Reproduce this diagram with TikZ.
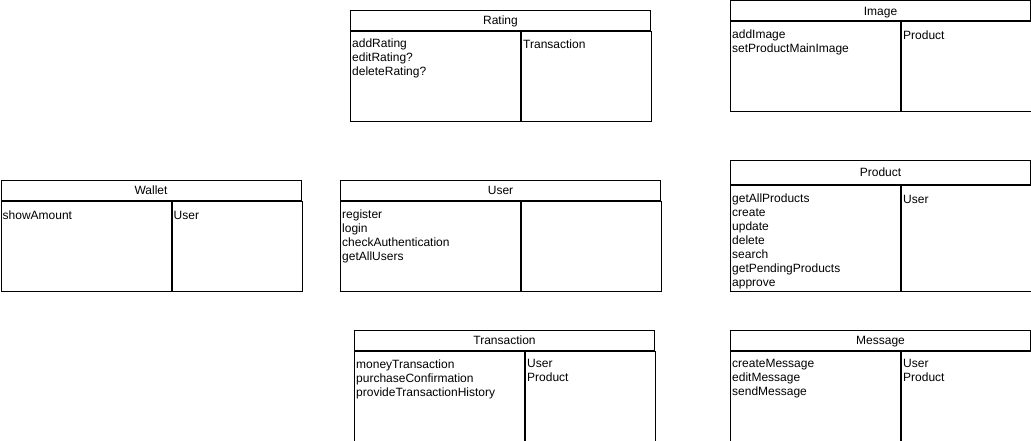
\documentclass[tikz,border=0pt]{standalone}
\usepackage{fontspec}
\setmainfont{Liberation Sans}
\usetikzlibrary{positioning}
\tikzset{
  cardtitle/.style={draw, line width=1pt, anchor=north west, inner sep=0pt,
    minimum height=20pt, text height=9.6pt, text depth=1.4pt,
    font=\fontsize{12}{14}\selectfont},
  cardcell/.style={draw, line width=1pt, anchor=north west, inner sep=0pt},
  cardtext/.style={anchor=north west, align=left, inner sep=0pt,
    font=\fontsize{12}{14}\selectfont, execute at begin node=\strut},
}
\begin{document}
\begin{tikzpicture}[x=1pt,y=-1pt]
  \useasboundingbox (0,0) rectangle (1031,441);
  % Rating
  \node[cardtitle, minimum width=300pt] (ratingT) at (350,10) {Rating};
  \node[cardcell, minimum width=170pt, minimum height=90pt] (ratingL) at (ratingT.south west) {};
  \node[cardcell, minimum width=130pt, minimum height=90pt] (ratingR) at (ratingL.north east) {};
  \node[cardtext] (ratingResp) at ([xshift=2pt,yshift=-8pt]ratingL.north west) {addRating\\editRating?\\deleteRating?};
  \node[cardtext] (ratingColl) at ([xshift=2pt,yshift=-8pt]ratingR.north west) {Transaction};
  % Image
  \node[cardtitle, minimum width=300pt] (imageT) at (730,0.5) {Image};
  \node[cardcell, minimum width=170pt, minimum height=90pt] (imageL) at (imageT.south west) {};
  \node[cardcell, minimum width=130pt, minimum height=90pt] (imageR) at (imageL.north east) {};
  \node[cardtext] (imageResp) at ([xshift=2pt,yshift=-8.5pt]imageL.north west) {addImage\\setProductMainImage};
  \node[cardtext] (imageColl) at ([xshift=2pt,yshift=-8.5pt]imageR.north west) {Product};
  % Wallet
  \node[cardtitle, minimum width=300pt] (walletT) at (0.5,180) {Wallet};
  \node[cardcell, minimum width=170pt, minimum height=90pt] (walletL) at (walletT.south west) {};
  \node[cardcell, minimum width=130pt, minimum height=90pt] (walletR) at (walletL.north east) {};
  \node[cardtext] (walletResp) at ([xshift=2pt,yshift=-8.5pt]walletL.north west) {showAmount};
  \node[cardtext] (walletColl) at ([xshift=2pt,yshift=-8.5pt]walletR.north west) {User};
  % User
  \node[cardtitle, minimum width=320pt] (userT) at (340,180) {User};
  \node[cardcell, minimum width=180pt, minimum height=90pt] (userL) at (userT.south west) {};
  \node[cardcell, minimum width=140pt, minimum height=90pt] (userR) at (userL.north east) {};
  \node[cardtext] (userResp) at ([xshift=2pt,yshift=-8.5pt]userL.north west) {register\\login\\checkAuthentication\\getAllUsers};
  % Product
  \node[cardtitle, minimum width=300pt, minimum height=24pt] (productT) at (730,160) {Product};
  \node[cardcell, minimum width=170pt, minimum height=106pt] (productL) at (productT.south west) {};
  \node[cardcell, minimum width=130pt, minimum height=106pt] (productR) at (productL.north east) {};
  \node[cardtext] (productResp) at ([xshift=2pt,yshift=-8.5pt]productL.north west) {getAllProducts\\create\\update\\delete\\search\\getPendingProducts\\approve};
  \node[cardtext] (productColl) at ([xshift=2pt,yshift=-8.5pt]productR.north west) {User};
  % Transaction
  \node[cardtitle, minimum width=300pt] (transT) at (354,330) {Transaction};
  \node[cardcell, minimum width=170pt, minimum height=90pt] (transL) at (transT.south west) {};
  \node[cardcell, minimum width=130pt, minimum height=90pt] (transR) at (transL.north east) {};
  \node[cardtext] (transResp) at ([xshift=2pt,yshift=-8.5pt]transL.north west) {moneyTransaction\\purchaseConfirmation\\provideTransactionHistory};
  \node[cardtext] (transColl) at ([xshift=2pt,yshift=-8.5pt]transR.north west) {User\\Product};
  % Message
  \node[cardtitle, minimum width=300pt] (messageT) at (730,330) {Message};
  \node[cardcell, minimum width=170pt, minimum height=90pt] (messageL) at (messageT.south west) {};
  \node[cardcell, minimum width=130pt, minimum height=90pt] (messageR) at (messageL.north east) {};
  \node[cardtext] (messageResp) at ([xshift=2pt,yshift=-8.5pt]messageL.north west) {createMessage\\editMessage\\sendMessage};
  \node[cardtext] (messageColl) at ([xshift=2pt,yshift=-8.5pt]messageR.north west) {User\\Product};
\end{tikzpicture}
\end{document}
